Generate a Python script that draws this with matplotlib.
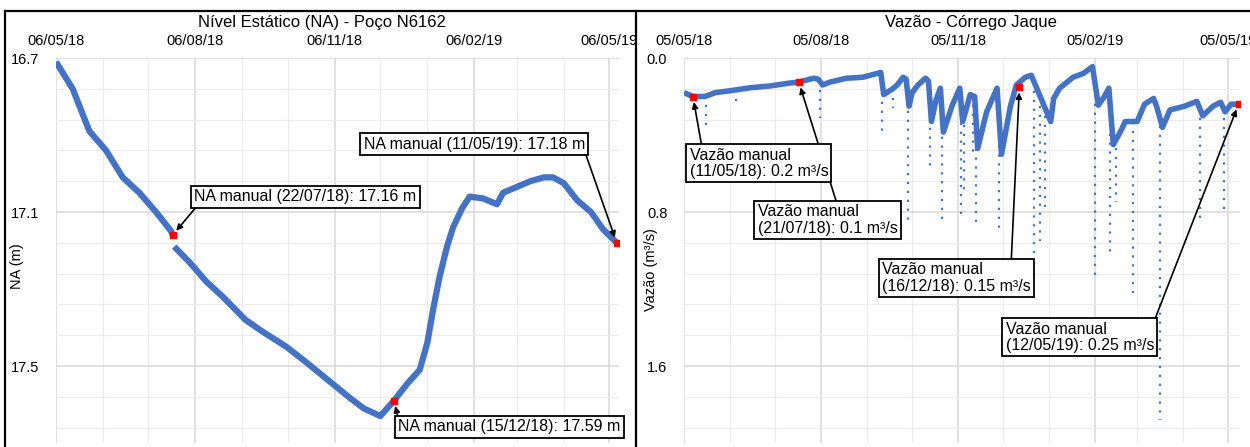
import numpy as np
import pandas as pd
import matplotlib
matplotlib.use('Agg')
import matplotlib.pyplot as plt
import matplotlib.dates as mdates
from matplotlib.lines import Line2D
from matplotlib.ticker import FixedLocator

# ── colours / fonts ─────────────────────────────────────────
BLUE = '#4472C4'
RED = '#FF0000'
GRID_MAJ = '#d9d9d9'
GRID_MIN = '#ececec'
plt.rcParams['font.family'] = ['Liberation Sans', 'DejaVu Sans']

W, H = 1250, 447

# ── data: static level (NA) ─────────────────────────────────
na_dates_a = ['2018-05-06', '2018-05-17', '2018-05-28', '2018-06-08', '2018-06-19',
              '2018-06-30', '2018-07-11', '2018-07-21', '2018-07-22']
na_vals_a = [16.71, 16.78, 16.89, 16.94, 17.01, 17.05, 17.10, 17.15, 17.16]

na_dates_b = ['2018-07-23', '2018-08-02', '2018-08-13', '2018-08-24', '2018-09-08',
              '2018-09-19', '2018-10-05', '2018-10-18', '2018-11-01', '2018-11-15',
              '2018-11-25', '2018-12-06', '2018-12-15', '2018-12-24', '2019-01-01',
              '2019-01-06', '2019-01-10', '2019-01-14', '2019-01-19', '2019-01-23',
              '2019-01-29', '2019-02-03', '2019-02-12', '2019-02-21', '2019-02-25',
              '2019-03-06', '2019-03-15', '2019-03-24', '2019-03-30', '2019-04-06',
              '2019-04-15', '2019-04-24', '2019-05-02', '2019-05-11']
na_vals_b = [17.19, 17.23, 17.28, 17.32, 17.38,
             17.41, 17.45, 17.49, 17.535, 17.58,
             17.61, 17.63, 17.59, 17.545, 17.51,
             17.44, 17.35, 17.27, 17.19, 17.14,
             17.09, 17.06, 17.065, 17.08, 17.05,
             17.035, 17.02, 17.01, 17.01, 17.025,
             17.07, 17.10, 17.145, 17.18]

na_manual_dates = ['2018-07-22', '2018-12-15', '2019-05-11']
na_manual_vals = [17.16, 17.59, 17.18]
na_manual_labels = ['NA manual (22/07/18): 17.16 m',
                    'NA manual (15/12/18): 17.59 m',
                    'NA manual (11/05/19): 17.18 m']

# ── data: discharge (Vazão) ─────────────────────────────────
q_dates = ['2018-05-05', '2018-05-11', '2018-05-19', '2018-05-26', '2018-06-05',
           '2018-06-18', '2018-07-02', '2018-07-15', '2018-07-21', '2018-07-31',
           '2018-08-03', '2018-08-06', '2018-08-11', '2018-08-22', '2018-09-02',
           '2018-09-14', '2018-09-16', '2018-09-22', '2018-09-25', '2018-09-29',
           '2018-10-01', '2018-10-03', '2018-10-05', '2018-10-09', '2018-10-14',
           '2018-10-16', '2018-10-18', '2018-10-21', '2018-10-24', '2018-10-26',
           '2018-11-01', '2018-11-06', '2018-11-08', '2018-11-13', '2018-11-16',
           '2018-11-18', '2018-11-24', '2018-12-01', '2018-12-04', '2018-12-10',
           '2018-12-14', '2018-12-20', '2018-12-24', '2019-01-06', '2019-01-08',
           '2019-01-12', '2019-01-21', '2019-01-28', '2019-02-03', '2019-02-07',
           '2019-02-11', '2019-02-14', '2019-02-17', '2019-02-22', '2019-02-25',
           '2019-02-28', '2019-03-05', '2019-03-10', '2019-03-16', '2019-03-18',
           '2019-03-22', '2019-03-27', '2019-04-06', '2019-04-14', '2019-04-18',
           '2019-04-25', '2019-04-30', '2019-05-03', '2019-05-07', '2019-05-12']
q_vals = [0.18, 0.20, 0.20, 0.18, 0.17,
          0.155, 0.145, 0.13, 0.125, 0.105,
          0.11, 0.14, 0.125, 0.105, 0.10,
          0.075, 0.19, 0.16, 0.14, 0.10,
          0.11, 0.25, 0.18, 0.14, 0.105,
          0.12, 0.33, 0.22, 0.157, 0.385,
          0.245, 0.157, 0.33, 0.19, 0.20,
          0.47, 0.28, 0.157, 0.50, 0.25,
          0.14, 0.10, 0.09, 0.33, 0.21,
          0.157, 0.10, 0.08, 0.045, 0.245,
          0.20, 0.157, 0.45, 0.38, 0.33,
          0.33, 0.33, 0.24, 0.21, 0.25,
          0.36, 0.27, 0.25, 0.225, 0.30,
          0.25, 0.23, 0.28, 0.24, 0.24]

# storm peaks (scattered dots below the band)
peak_dates = ['2018-05-20', '2018-06-09', '2018-08-04', '2018-09-15', '2018-09-22',
              '2018-10-02', '2018-10-17', '2018-10-25', '2018-11-07', '2018-11-09',
              '2018-11-15', '2018-11-17', '2018-12-02', '2018-12-26', '2018-12-30',
              '2019-01-02', '2019-02-05', '2019-02-15', '2019-02-19', '2019-03-02',
              '2019-03-20', '2019-04-16', '2019-05-02']
peak_vals = [0.36, 0.23, 0.31, 0.40, 0.26,
             0.85, 0.59, 0.87, 0.83, 0.70,
             0.50, 0.87, 0.91, 1.03, 0.95,
             0.80, 1.15, 1.03, 0.75, 1.25,
             1.88, 0.85, 0.80]

q_manual_dates = ['2018-05-11', '2018-07-21', '2018-12-16', '2019-05-12']
q_manual_vals = [0.20, 0.125, 0.15, 0.24]
q_manual_labels = ['Vazão manual\n(11/05/18): 0.2 m³/s',
                   'Vazão manual\n(21/07/18): 0.1 m³/s',
                   'Vazão manual\n(16/12/18): 0.15 m³/s',
                   'Vazão manual\n(12/05/19): 0.25 m³/s']

na_ticks = [16.7, 17.1, 17.5]
q_ticks = [0.0, 0.8, 1.6]


def dn(lst):
    return mdates.date2num(pd.to_datetime(lst))


def fpx(x, y):
    # image pixel (top-left origin) -> figure pixels
    return (x, H - y)


fig = plt.figure(figsize=(W / 100, H / 100), dpi=100, facecolor='white')

ax1 = fig.add_axes([56 / W, (H - 443) / H, 563 / W, 385 / H])
ax2 = fig.add_axes([684 / W, (H - 443) / H, 556 / W, 385 / H])


def style_axis(ax, xmin, xmax, day, yticks, ystep, ylim):
    ax.set_xlim(dn([xmin])[0], dn([xmax])[0])
    ax.set_ylim(*ylim)
    ax.xaxis.tick_top()
    ax.xaxis.set_major_locator(mdates.MonthLocator(bymonth=[2, 5, 8, 11], bymonthday=day))
    ax.xaxis.set_minor_locator(mdates.MonthLocator(bymonthday=day))
    ax.xaxis.set_major_formatter(mdates.DateFormatter('%d/%m/%y'))
    ax.yaxis.set_major_locator(FixedLocator(yticks))
    ax.yaxis.set_minor_locator(FixedLocator(np.arange(ylim[1], ylim[0] + 1e-6, ystep)))
    ax.yaxis.set_major_formatter(plt.FuncFormatter(lambda v, _: f'{v:.1f}'))
    ax.tick_params(which='both', length=0)
    ax.tick_params(axis='x', which='major', pad=7, labelsize=10.5)
    ax.tick_params(axis='y', which='major', pad=12, labelsize=10.5)
    ax.grid(which='minor', color=GRID_MIN, lw=0.8)
    ax.grid(which='major', color=GRID_MAJ, lw=1.1)
    ax.set_axisbelow(True)
    for s in ax.spines.values():
        s.set_visible(False)


style_axis(ax1, '2018-05-06', '2019-05-12 12:00', 6, na_ticks, 0.08, (17.7, 16.7))
style_axis(ax2, '2018-05-05', '2019-05-13', 5, q_ticks, 0.16, (2.0, 0.0))

# ── left panel ──────────────────────────────────────────────
ax1.plot(dn(na_dates_a), na_vals_a, color=BLUE, lw=4.5, solid_capstyle='butt')
ax1.plot(dn(na_dates_b), na_vals_b, color=BLUE, lw=4.5, solid_capstyle='butt')
ax1.plot(dn(na_manual_dates), na_manual_vals, 's', color=RED, ms=5, zorder=5)
ax1.set_ylabel('NA (m)', fontsize=10.5)
ax1.yaxis.set_label_coords(-0.056, 0.46)

na_boxes = [((191, 186), (0.02, 0.05)),
            ((395, 416), (0.0, 1.0)),
            ((360, 133), (1.0, 0.0))]
for (bx, by), rel, d, v, lab in zip([b[0] for b in na_boxes], [b[1] for b in na_boxes],
                                    na_manual_dates, na_manual_vals, na_manual_labels):
    ax1.annotate(lab, xy=(dn([d])[0], v), xycoords='data',
                 xytext=fpx(bx + 3.5, by + 3.5), textcoords='figure pixels',
                 ha='left', va='top', fontsize=11.5, annotation_clip=False,
                 bbox=dict(boxstyle='square,pad=0.2', fc='white', ec='black', lw=1.3),
                 arrowprops=dict(arrowstyle='-|>', color='black', lw=1.2,
                                 mutation_scale=9, relpos=rel, shrinkA=0, shrinkB=4))

# ── right panel ─────────────────────────────────────────────
qx = dn(q_dates)
px_ = dn(peak_dates)
base_at_peak = np.interp(px_, qx, q_vals)
ax2.vlines(px_, base_at_peak, peak_vals, color=BLUE, lw=1.6, linestyles=(0, (1, 3)))
ax2.plot(qx, q_vals, color=BLUE, lw=4, solid_capstyle='butt')
ax2.plot(dn(q_manual_dates), q_manual_vals, 's', color=RED, ms=5, zorder=5)
ax2.set_ylabel('Vazão (m³/s)', fontsize=10.5)
ax2.yaxis.set_label_coords(-0.046, 0.45)

q_boxes = [((686, 144), (0.09, 1.0), 6),
           ((754, 201), (0.57, 1.0), 5),
           ((879, 259), (0.865, 1.0), 4),
           ((1002, 318), (1.0, 1.0), 3)]
for (pos, rel, z), d, v, lab in zip(q_boxes, q_manual_dates, q_manual_vals, q_manual_labels):
    bx, by = pos
    ax2.annotate(lab, xy=(dn([d])[0], v), xycoords='data',
                 xytext=fpx(bx + 3.5, by + 3.5), textcoords='figure pixels',
                 ha='left', va='top', fontsize=11.5, linespacing=1.15,
                 annotation_clip=False, zorder=z,
                 bbox=dict(boxstyle='square,pad=0.2', fc='white', ec='black', lw=1.3),
                 arrowprops=dict(arrowstyle='-|>', color='black', lw=1.2,
                                 mutation_scale=9, relpos=rel, shrinkA=0, shrinkB=4))

# ── titles and panel frames ─────────────────────────────────
fig.text(322 / W, (H - 22) / H, 'Nível Estático (NA) - Poço N6162',
         ha='center', va='center', fontsize=12)
fig.text(971 / W, (H - 22) / H, 'Vazão - Córrego Jaque',
         ha='center', va='center', fontsize=12)

for (x0, y0), (x1, y1) in [((5, 11), (W, 11)), ((5, 11), (5, H)), ((636, 11), (636, H))]:
    fig.add_artist(Line2D([x0 / W, x1 / W], [(H - y0) / H, (H - y1) / H],
                          color='black', lw=1.6, transform=fig.transFigure))

fig.savefig('out.png', dpi=100, facecolor='white')
